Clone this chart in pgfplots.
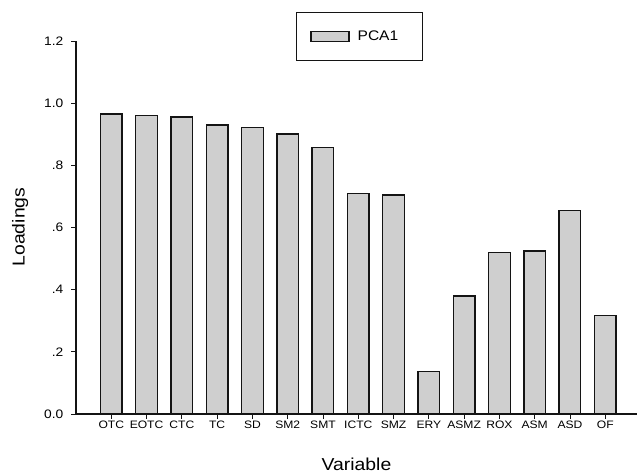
\documentclass[border=0pt]{standalone}
\usepackage{pgfplots}
\pgfplotsset{compat=1.18}
\usepackage{fontspec}
\setmainfont{Liberation Sans}[FakeStretch=1.12]

\definecolor{barfill}{RGB}{207,207,207}
\definecolor{edge}{RGB}{20,20,20}

\pgfplotstableread{
idx name load
0  OTC  0.965
1  EOTC 0.961
2  CTC  0.955
3  TC   0.930
4  SD   0.921
5  SM2  0.901
6  SMT  0.857
7  ICTC 0.709
8  SMZ  0.705
9  ERY  0.136
10 ASMZ 0.380
11 ROX  0.520
12 ASM  0.525
13 ASD  0.654
14 OF   0.316
}\loadings

\begin{document}
\begin{tikzpicture}
\path[use as bounding box] (0,0) rectangle (639bp,476bp);
\begin{axis}[
  at={(76bp,62bp)}, anchor=south west,
  scale only axis,
  width=561bp, height=373bp,
  xmin=-1, xmax=14.9,
  ymin=0, ymax=1.2,
  ybar, bar width=21.6bp,
  axis x line*=bottom,
  axis y line*=left,
  axis line style={edge, line width=1.1bp},
  tick style={edge, line width=0.9bp},
  tick align=outside,
  major tick length=5bp,
  xtick={0,...,14},
  xticklabels={OTC,EOTC,CTC,TC,SD,SM2,SMT,ICTC,SMZ,ERY,ASMZ,ROX,ASM,ASD,OF},
  ytick={0,0.2,0.4,0.6,0.8,1.0,1.2},
  yticklabels={0.0,.2,.4,.6,.8,1.0,1.2},
  x tick label style={font=\fontsize{10.8bp}{13bp}\selectfont, inner sep=2bp},
  y tick label style={font=\fontsize{12.3bp}{14bp}\selectfont, inner sep=7.5bp},
  legend style={
    at={(rel axis cs:0.5053,1.0777)}, anchor=north,
    draw=edge, line width=0.9bp,
    inner xsep=14bp, inner ysep=16.5bp,
    font=\fontsize{13.9bp}{16bp}\selectfont,
    cells={anchor=west},
  },
  legend image code/.code={
    \draw[fill=barfill, draw=edge, line width=1.3bp] (0bp,-5bp) rectangle (38bp,5bp);
  },
]
\addplot[fill=barfill, draw=edge, line width=1.4bp]
  table[x=idx, y=load] {\loadings};
\addlegendentry{\makebox[55bp][l]{\hspace{6bp}PCA1}}
\end{axis}
\node[rotate=90, anchor=base, font=\fontsize{17.3bp}{20bp}\selectfont] at (24.5bp,249bp) {Loadings};
\node[anchor=base, font=\fontsize{17.3bp}{20bp}\selectfont] at (356.5bp,6bp) {Variable};
\end{tikzpicture}
\end{document}
